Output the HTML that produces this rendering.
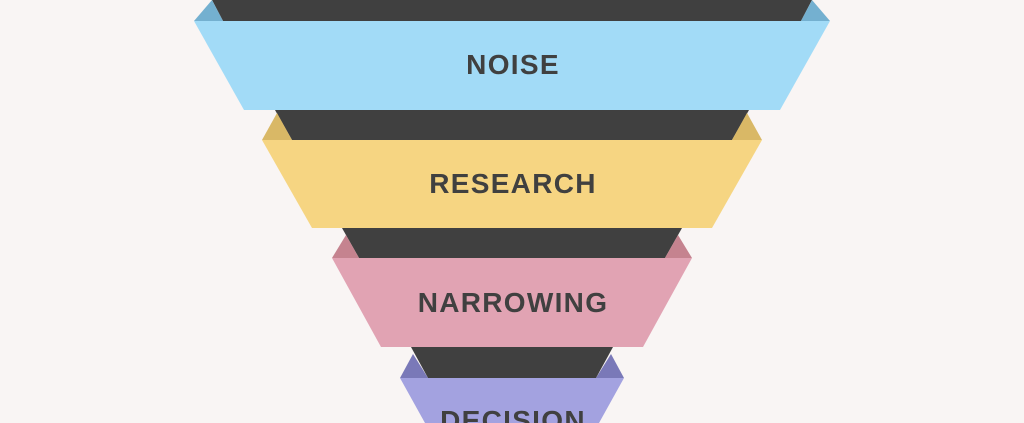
<!DOCTYPE html>
<html><head><style>html,body{margin:0;padding:0;background:#f9f5f4;width:1024px;height:423px;overflow:hidden;}svg{display:block;overflow:hidden}</style></head>
<body>
<svg width="1024" height="423" viewBox="0 0 1024 423" xmlns="http://www.w3.org/2000/svg">
<rect width="1024" height="423" fill="#f9f5f4"/>
<polygon points="212,0 812,0 801,21 223,21" fill="#404040"/>
<polygon points="194,21 212,0 223,21" fill="#74b0d0"/>
<polygon points="830,21 812,0 801,21" fill="#74b0d0"/>
<polygon points="194,21 830,21 780,110 244,110" fill="#a2dbf7"/>
<polygon points="275,110 749,110 732,140 292,140" fill="#404040"/>
<polygon points="262,140 277,113 292,140" fill="#d9b866"/>
<polygon points="762,140 747,113 732,140" fill="#d9b866"/>
<polygon points="262,140 762,140 712,228 312,228" fill="#f6d582"/>
<polygon points="342,228 682,228 665,258 359,258" fill="#404040"/>
<polygon points="332,258 346,235 359,258" fill="#c5838f"/>
<polygon points="692,258 678,235 665,258" fill="#c5838f"/>
<polygon points="332,258 692,258 643,347 381,347" fill="#e1a3b3"/>
<polygon points="411,347 613,347 596,378 428,378" fill="#404040"/>
<polygon points="400,378 413,354 428,378" fill="#7a79b8"/>
<polygon points="624,378 611,354 596,378" fill="#7a79b8"/>
<polygon points="400,378 624,378 599,423 425,423" fill="#a3a2e0"/>
<g font-family="Liberation Sans, sans-serif" font-weight="bold" font-size="28" fill="#404040" text-anchor="middle" letter-spacing="1.3">
<text x="513" y="74">NOISE</text>
<text x="513" y="193">RESEARCH</text>
<text x="513" y="312">NARROWING</text>
<text x="513" y="430">DECISION</text>
</g>
</svg>
</body></html>
